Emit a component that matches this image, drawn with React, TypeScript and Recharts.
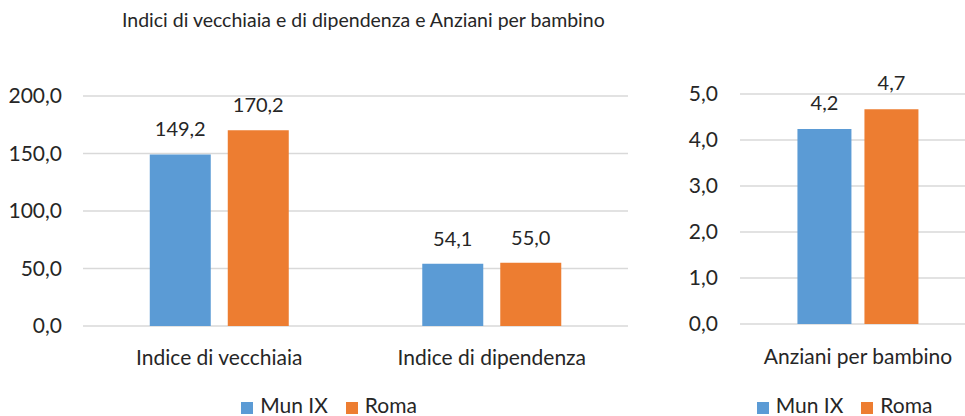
import React from 'react';
import { Bar, BarChart, CartesianGrid, XAxis, YAxis, Legend, LabelList } from 'recharts';

const indexCategories = ['Indice di vecchiaia', 'Indice di dipendenza'];
const indexMunIX = [149.2, 54.1];
const indexRoma = [170.2, 55.0];
const indexTicks = [0, 50, 100, 150, 200];

const ratioCategories = ['Anziani per bambino'];
const ratioMunIX = [4.24];
const ratioRoma = [4.67];
const ratioTicks = [0, 1, 2, 3, 4, 5];

const BLUE = '#5B9BD5';
const ORANGE = '#ED7D31';
const TEXT = '#262626';
const GRID = '#D9D9D9';
const FONT = 'Lato, "Open Sans", sans-serif';

const fmt = (v: number) => Number(v).toFixed(1).replace('.', ',');

const indexData = indexCategories.map((name, i) => ({ name, mun: indexMunIX[i], roma: indexRoma[i] }));
const ratioData = ratioCategories.map((name, i) => ({ name, mun: ratioMunIX[i], roma: ratioRoma[i] }));

const legendStyle = { fontSize: 21, color: TEXT, top: 392, height: 40, bottom: 'auto' };
const legendText = (value: string) => (
  <span style={{ color: TEXT, marginLeft: 3, marginRight: 8 }}>{value}</span>
);

const App: React.FC = () => {
  return (
    <div style={{ position: 'absolute', left: 0, top: 0, width: 965, height: 416, background: '#fff', fontFamily: FONT, overflow: 'hidden' }}>
      <div style={{ position: 'absolute', left: 122, top: 8, fontSize: 19.5, color: TEXT, whiteSpace: 'nowrap' }}>
        Indici di vecchiaia e di dipendenza e Anziani per bambino
      </div>

      <div style={{ position: 'absolute', left: 0, top: 0 }}>
        <BarChart
          width={640}
          height={416}
          data={indexData}
          margin={{ top: 96, right: 12, left: 0, bottom: 0 }}
          barCategoryGap="24.5%"
          barGap={17}
        >
          <CartesianGrid vertical={false} stroke={GRID} strokeWidth={1.5} />
          <XAxis dataKey="name" axisLine={false} tickLine={false} tickSize={0} tickMargin={24} height={50}
            tick={{ fill: TEXT, fontSize: 21, fontFamily: FONT }} />
          <YAxis domain={[0, 200]} ticks={indexTicks} width={83} axisLine={false} tickLine={false} tickSize={0} tickMargin={21}
            tickFormatter={fmt} tick={{ fill: TEXT, fontSize: 21, fontFamily: FONT }} />
          <Legend verticalAlign="bottom" height={40} iconType="square" iconSize={12}
            wrapperStyle={{ ...legendStyle, left: 24 }}
            formatter={legendText} />
          <Bar dataKey="mun" name="Mun IX" fill={BLUE} isAnimationActive={false}>
            <LabelList dataKey="mun" position="top" offset={18} formatter={fmt} fill={TEXT} fontSize={20} fontFamily={FONT} />
          </Bar>
          <Bar dataKey="roma" name="Roma" fill={ORANGE} isAnimationActive={false}>
            <LabelList dataKey="roma" position="top" offset={18} formatter={fmt} fill={TEXT} fontSize={20} fontFamily={FONT} />
          </Bar>
        </BarChart>
      </div>

      <div style={{ position: 'absolute', left: 640, top: 0 }}>
        <BarChart
          width={325}
          height={416}
          data={ratioData}
          margin={{ top: 94, right: 0, left: 0, bottom: 0 }}
          barCategoryGap="21.7%"
          barGap={13}
        >
          <CartesianGrid vertical={false} stroke={GRID} strokeWidth={1.5} />
          <XAxis dataKey="name" axisLine={false} tickLine={false} tickSize={0} tickMargin={25} height={52}
            padding={{ left: 11, right: 0 }}
            tick={{ fill: TEXT, fontSize: 21, fontFamily: FONT }} />
          <YAxis domain={[0, 5]} ticks={ratioTicks} width={100} axisLine={false} tickLine={false} tickSize={0} tickMargin={22}
            tickFormatter={fmt} tick={{ fill: TEXT, fontSize: 21, fontFamily: FONT }} />
          <Legend verticalAlign="bottom" height={40} iconType="square" iconSize={12}
            wrapperStyle={{ ...legendStyle, left: 51 }}
            formatter={legendText} />
          <Bar dataKey="mun" name="Mun IX" fill={BLUE} isAnimationActive={false}>
            <LabelList dataKey="mun" position="top" offset={19} formatter={fmt} fill={TEXT} fontSize={20} fontFamily={FONT} />
          </Bar>
          <Bar dataKey="roma" name="Roma" fill={ORANGE} isAnimationActive={false}>
            <LabelList dataKey="roma" position="top" offset={19} formatter={fmt} fill={TEXT} fontSize={20} fontFamily={FONT} />
          </Bar>
        </BarChart>
      </div>
    </div>
  );
};

export default App;
